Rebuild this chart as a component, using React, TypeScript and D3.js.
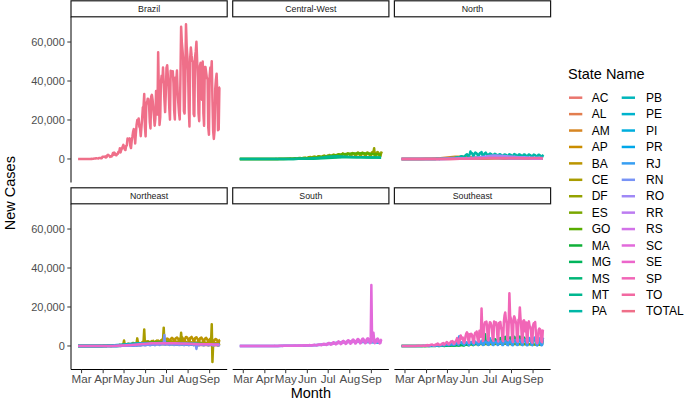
import React from 'react';
import * as d3 from 'd3';

// ---------------- DATA (values in thousands of new cases) ----------------
const START = new Date(2020, 1, 25); // first day of the daily series
const regions = ['Brazil', 'Central-West', 'North', 'Northeast', 'South', 'Southeast'];
const stateNames = ['AC','AL','AM','AP','BA','CE','DF','ES','GO','MA','MG','MS','MT','PA','PB','PE','PI','PR','RJ','RN','RO','RR','RS','SC','SE','SP','TO','TOTAL'];
const stateRegion: Record<string, string> = {
  AC:'North', AM:'North', AP:'North', PA:'North', RO:'North', RR:'North', TO:'North',
  AL:'Northeast', BA:'Northeast', CE:'Northeast', MA:'Northeast', PB:'Northeast', PE:'Northeast', PI:'Northeast', RN:'Northeast', SE:'Northeast',
  DF:'Central-West', GO:'Central-West', MS:'Central-West', MT:'Central-West',
  ES:'Southeast', MG:'Southeast', RJ:'Southeast', SP:'Southeast',
  PR:'South', RS:'South', SC:'South',
  TOTAL:'Brazil',
};
const yTicks = [0, 20000, 40000, 60000];
const monthLabels = ['Mar', 'Apr', 'May', 'Jun', 'Jul', 'Aug', 'Sep'];

// daily series (one value per day from 2020-02-25)
const TOTAL_daily = [
  0,0.001,0,0,0,0.001,0,
  0,0.001,0.005,0.005,0.006,0.006,0.005,
  0.009,0.018,0.025,0.021,0.023,0.079,0.034,
  0.057,0.137,0.193,0.283,0.224,0.418,0.345,
  0.310,0.232,0.482,0.502,0.487,0.352,0.323,
  1.138,1.119,1.208,1.012,1.304,0.770,1.031,
  1.873,2.136,1.922,1.546,1.089,1.442,1.261,
  1.832,3.058,2.105,3.257,2.917,2.055,1.927,
  2.498,2.678,3.735,3.503,5.514,3.379,4.613,
  5.385,6.276,7.218,6.209,4.970,4.588,6.633,
  6.935,10.503,9.888,10.222,10.611,6.760,5.632,
  9.258,11.385,13.944,15.305,14.919,7.938,13.140,
  17.408,19.951,18.508,20.803,16.508,15.813,11.687,
  16.324,20.599,26.417,26.928,33.274,16.409,11.598,
  28.936,28.633,30.925,30.830,27.075,18.912,15.654,
  32.091,32.913,30.412,25.982,21.704,17.110,20.647,
  34.918,32.188,22.765,54.771,34.666,17.459,21.432,
  39.436,42.725,39.483,46.907,38.693,30.476,24.052,
  33.846,46.712,48.105,42.223,37.279,26.051,20.229,
  45.305,44.571,42.619,45.048,39.023,24.831,20.286,
  41.857,39.924,45.403,34.177,28.532,23.529,20.257,
  41.008,67.860,59.961,55.891,51.147,24.578,23.284,
  40.816,69.074,57.837,52.383,45.392,25.800,16.641,
  51.603,57.152,53.139,50.230,49.970,23.010,22.048,
  52.160,55.155,60.091,50.644,41.576,23.101,19.373,
  47.784,49.298,45.323,30.355,50.032,23.421,17.078,
  47.134,47.161,44.235,41.350,41.300,16.158,12.386,
  42.659,46.934,43.773,50.163,30.168,14.521,10.273,
  14.279,35.816,40.557,43.718,33.523,14.768,15.155,
  36.653,36.820,
];

const SP_daily = [
  0,0.001,0,0,0,0.001,0,
  0,0.001,0.003,0.003,0,0.003,0,
  0.003,0.011,0.012,0.008,0.009,0.046,0.020,
  0.012,0.076,0.076,0.110,0.063,0.172,0.114,
  0.065,0.052,0.190,0.172,0.087,0.071,0.070,
  0.325,0.171,0.457,0.208,0.392,0.258,0.325,
  0.676,0.666,0.733,0.513,0.301,0.488,0.395,
  0.653,0.962,0.616,1.261,0.966,0.556,0.522,
  0.653,0.697,1.101,1.306,1.498,0.623,0.893,
  1.466,1.480,2.036,1.708,1.139,0.823,1.353,
  1.591,2.255,2.066,2.573,2.142,1.114,1.220,
  2.034,2.442,3.081,4.092,2.560,1.361,2.058,
  3.525,5.418,4.224,3.777,4.298,2.166,1.574,
  2.637,5.012,6.382,6.999,6.216,2.843,1.682,
  6.018,4.959,6.244,5.918,4.428,1.983,1.550,
  5.600,6.800,6.200,7.400,4.500,2.600,2.100,
  7.800,7.300,4.700,19.200,8.500,2.500,3.300,
  10.700,12.100,11.300,12.500,9.800,3.100,2.800,
  10.500,12.200,11.900,10.800,8.600,3.400,2.600,
  12.600,11.300,10.900,12.100,9.200,3.700,2.300,
  11.800,10.600,12.300,9.400,7.900,3.000,2.400,
  12.100,15.600,17.200,13.400,11.600,3.300,2.900,
  11.400,27.000,15.500,14.200,10.900,3.100,2.100,
  13.700,15.200,14.000,12.600,11.200,2.900,2.200,
  13.500,12.800,19.800,13.900,9.600,3.000,1.900,
  12.900,13.200,11.600,7.400,12.100,2.800,1.800,
  11.800,12.600,10.300,9.800,8.100,2.400,1.700,
  10.400,11.600,10.900,12.300,7.300,2.100,1.400,
  2.600,8.200,8.900,8.600,7.900,2.300,1.900,
  7.900,7.600,
];

const RJ_daily = [
  0,0,0,0,0,0,0,
  0,0,0.001,0,0,0,0,
  0,0.001,0.006,0.006,0.002,0.010,0.007,
  0.006,0.018,0.012,0.026,0.010,0.039,0.032,
  0.051,0.047,0.049,0.072,0.085,0.043,0.049,
  0.091,0.111,0.084,0.102,0.047,0.063,0.054,
  0.178,0.203,0.210,0.156,0.095,0.198,0.095,
  0.238,0.312,0.164,0.335,0.291,0.246,0.178,
  0.295,0.211,0.393,0.347,0.627,0.377,0.332,
  0.623,0.656,0.723,0.542,0.522,0.431,0.596,
  0.752,0.870,0.902,0.761,0.733,0.497,0.461,
  0.985,1.108,1.246,1.522,1.213,0.560,4.950,
  1.720,2.100,1.490,1.805,1.354,0.986,0.622,
  1.118,1.705,1.602,1.887,1.551,0.746,0.516,
  1.432,1.818,2.012,1.950,1.470,0.812,0.633,
  1.912,2.250,1.807,1.702,1.225,0.588,0.774,
  2.116,1.958,1.310,2.612,1.842,0.531,0.622,
  1.743,2.312,1.940,2.146,1.583,0.672,0.556,
  1.635,3.920,2.110,1.824,1.350,0.604,0.489,
  2.305,2.028,1.814,2.252,1.560,0.530,0.611,
  1.802,1.956,2.410,1.532,1.124,0.465,0.520,
  1.910,2.108,2.452,2.010,1.416,0.510,0.434,
  1.866,2.940,2.210,1.980,1.412,0.488,0.392,
  2.520,2.810,3.010,2.330,1.870,0.512,0.457,
  2.604,3.290,2.960,2.440,1.708,0.560,0.421,
  2.716,3.120,3.350,2.204,1.930,0.402,0.388,
  3.012,3.560,4.100,2.640,2.210,0.566,0.347,
  3.620,3.880,4.260,3.720,2.015,0.498,0.292,
  0.654,3.412,3.650,4.020,2.540,0.410,0.520,
  3.810,3.420,
];

const MG_daily = [
  0,0,0,0,0,0,0,
  0,0,0,0,0.001,0,0,
  0,0,0.002,0.003,0.001,0.011,0.004,
  0.008,0.014,0.010,0.031,0.024,0.045,0.018,
  0.024,0.020,0.037,0.017,0.032,0.014,0.022,
  0.053,0.028,0.040,0.024,0.033,0.029,0.015,
  0.047,0.046,0.053,0.060,0.018,0.038,0.030,
  0.052,0.071,0.062,0.080,0.041,0.035,0.028,
  0.064,0.080,0.071,0.110,0.062,0.054,0.047,
  0.105,0.130,0.148,0.097,0.121,0.060,0.070,
  0.158,0.192,0.221,0.184,0.216,0.123,0.094,
  0.238,0.280,0.321,0.352,0.289,0.151,0.190,
  0.412,0.398,0.451,0.502,0.426,0.233,0.281,
  0.523,0.604,0.687,0.712,0.640,0.338,0.402,
  0.860,0.951,1.120,1.012,0.843,0.412,0.560,
  1.210,1.350,1.432,1.198,0.902,0.488,0.621,
  1.622,1.704,1.552,1.880,1.410,0.610,0.720,
  2.010,6.050,2.208,2.402,1.886,0.812,0.703,
  2.504,2.812,2.650,2.760,2.107,0.930,0.880,
  3.210,3.560,3.320,3.070,2.504,1.020,0.955,
  3.402,3.850,4.120,3.200,2.660,1.105,1.020,
  3.510,4.320,4.660,3.880,2.940,0.980,1.120,
  3.620,4.010,4.430,3.950,3.120,1.050,0.912,
  4.130,4.720,4.320,3.610,2.980,0.870,1.010,
  3.950,4.510,4.810,3.920,2.650,0.920,0.980,
  4.120,4.350,3.880,3.020,2.710,0.810,0.760,
  3.860,4.010,3.620,3.150,2.450,0.702,0.690,
  3.720,3.910,3.450,3.380,2.120,0.610,0.520,
  0.940,3.320,3.410,3.260,2.280,0.640,0.820,
  3.120,3.050,
];

const CE_daily = [
  0,0,0,0,0,0,0,
  0,0,0,0,0,0,0,
  0,0,0,0,0,0.003,0.006,
  0.010,0.004,0.010,0.020,0.026,0.035,0.035,
  0.052,0.046,0.060,0.038,0.062,0.030,0.040,
  0.072,0.080,0.060,0.095,0.070,0.045,0.050,
  0.095,0.140,0.180,0.120,0.100,0.110,0.080,
  0.180,0.250,0.210,0.330,0.260,0.180,0.210,
  0.290,0.340,0.420,0.510,0.620,0.380,0.450,
  0.560,0.720,0.880,2.800,0.650,0.540,0.720,
  0.890,1.020,1.210,1.150,0.950,0.620,0.810,
  1.120,1.350,1.560,1.420,1.200,0.850,0.980,
  1.450,3.900,1.720,1.650,1.380,0.920,1.050,
  1.520,1.880,2.100,1.950,8.500,1.100,0.950,
  2.200,2.450,2.050,2.380,1.900,1.050,1.120,
  2.310,2.540,2.120,2.650,1.820,1.250,1.180,
  2.450,2.710,2.380,2.600,1.950,0.980,1.120,
  2.550,2.810,2.380,3.100,9.400,1.200,1.080,
  2.430,2.600,2.210,2.340,1.750,0.860,0.920,
  2.150,2.380,2.020,2.210,1.620,0.780,0.850,
  1.950,2.120,1.880,2.050,1.450,0.720,0.780,
  2.010,6.800,2.150,1.980,1.520,0.650,0.710,
  1.850,2.100,1.920,1.760,1.340,0.580,0.620,
  1.720,1.950,1.830,1.650,1.210,0.540,0.590,
  1.680,1.820,1.750,1.530,1.120,0.510,0.560,
  1.590,1.710,1.620,1.450,1.050,0.480,0.520,
  1.510,1.640,1.580,1.380,0.980,0.420,0.480,
  1.420,1.560,1.480,11.100,-8.200,0.950,0.450,
  1.320,1.450,1.380,1.250,0.880,0.380,0.420,
  1.250,1.310,
];

const BA_daily = [
  0,0,0,0,0,0,0,
  0,0,0,0,0,0,0,
  0,0,0,0,0.001,0.002,0.003,
  0.005,0.010,0.012,0.022,0.020,0.030,0.025,
  0.028,0.030,0.045,0.032,0.040,0.020,0.030,
  0.052,0.045,0.060,0.042,0.055,0.030,0.040,
  0.060,0.075,0.080,0.070,0.050,0.055,0.045,
  0.090,0.110,0.100,0.120,0.090,0.070,0.080,
  0.130,0.150,0.170,0.160,0.180,0.110,0.120,
  0.210,0.240,0.280,0.250,0.220,0.150,0.180,
  0.320,0.380,0.420,0.400,0.350,0.210,0.260,
  0.480,0.560,0.620,0.580,0.510,0.320,0.400,
  0.720,0.810,0.890,0.850,0.760,0.450,0.550,
  0.980,1.120,1.250,1.180,1.050,0.620,0.740,
  1.350,1.520,1.680,1.610,1.420,0.850,1.020,
  1.820,2.050,2.210,2.120,1.850,1.120,1.350,
  2.350,2.620,2.480,2.710,2.250,1.320,1.520,
  2.850,3.120,3.350,3.210,2.780,1.650,1.820,
  3.250,3.520,3.780,3.610,3.120,1.820,2.010,
  3.620,3.910,4.150,3.880,3.320,1.950,2.250,
  3.850,4.120,4.380,4.050,3.510,2.020,2.380,
  3.920,4.250,4.510,4.120,3.620,2.110,2.420,
  4.050,4.620,4.480,4.210,3.580,2.050,2.310,
  4.120,4.380,4.650,4.020,3.450,1.980,2.250,
  3.950,4.280,4.510,3.920,3.380,1.920,2.150,
  3.820,4.120,4.350,3.750,3.210,1.850,2.050,
  3.650,3.950,4.180,3.620,3.020,1.720,1.950,
  3.420,3.750,3.850,3.420,2.850,1.650,1.820,
  3.150,3.420,3.580,3.210,2.650,1.520,1.680,
  2.950,3.120,
];

const RN_daily = [
  0,0,0,0,0,0,0,
  0,0,0,0,0,0,0,
  0,0,0.001,0,0.002,0.003,0.002,
  0.003,0.005,0.004,0.006,0.005,0.010,0.008,
  0.010,0.012,0.015,0.010,0.020,0.008,0.012,
  0.020,0.025,0.018,0.030,0.020,0.015,0.018,
  0.030,0.035,0.040,0.030,0.025,0.020,0.025,
  0.040,0.050,0.045,0.060,0.040,0.030,0.035,
  0.060,0.070,0.080,0.075,0.065,0.040,0.050,
  0.090,0.110,0.120,0.100,0.090,0.060,0.070,
  0.130,0.150,0.170,0.160,0.140,0.090,0.110,
  0.200,0.230,0.250,0.240,0.210,0.130,0.160,
  0.300,0.350,0.380,0.360,0.320,0.200,0.240,
  0.420,0.480,0.520,0.500,0.450,0.280,0.330,
  0.550,0.620,0.680,0.650,0.580,0.350,0.420,
  0.700,0.780,0.820,0.800,0.720,0.420,0.500,
  0.820,0.900,0.950,0.920,0.850,0.480,0.580,
  0.920,1.000,1.050,1.020,0.950,5.600,0.650,
  0.950,1.050,1.080,1.020,0.920,0.550,0.620,
  0.900,0.980,1.020,0.950,0.850,0.500,0.580,
  0.850,0.920,0.950,0.900,0.800,0.450,0.520,
  0.800,0.880,0.900,0.850,0.750,0.420,0.500,
  0.750,0.820,0.850,0.800,0.700,0.400,0.470,
  0.700,0.780,0.800,0.750,0.650,0.380,0.440,
  0.650,0.720,-1.500,0.700,0.620,0.350,0.420,
  0.620,0.680,0.700,0.650,0.580,0.330,0.400,
  0.580,0.650,0.680,0.620,0.550,0.320,0.380,
  0.550,0.620,0.650,0.600,0.520,0.300,0.360,
  0.520,0.580,0.620,0.570,0.500,0.280,0.340,
  0.500,0.560,
];

const SC_daily = [
  0,0,0,0,0,0,0,
  0,0,0,0,0,0,0,
  0,0,0.002,0,0.001,0.003,0.002,
  0.004,0.005,0.012,0.015,0.020,0.030,0.025,
  0.020,0.018,0.025,0.030,0.022,0.015,0.020,
  0.025,0.030,0.028,0.035,0.030,0.020,0.025,
  0.035,0.040,0.038,0.045,0.030,0.025,0.030,
  0.045,0.060,0.050,0.055,0.040,0.030,0.035,
  0.060,0.070,0.080,0.075,0.060,0.040,0.050,
  0.080,0.095,0.110,0.120,0.090,0.060,0.070,
  0.120,0.150,0.160,0.140,0.130,0.080,0.100,
  0.180,0.200,0.220,0.250,0.190,0.110,0.140,
  0.230,0.260,0.280,0.300,0.250,0.150,0.180,
  0.280,0.320,0.350,0.380,0.300,0.180,0.220,
  0.350,0.420,0.450,0.400,0.380,0.220,0.280,
  0.480,0.550,0.600,0.520,0.450,0.280,0.350,
  0.650,0.720,0.800,0.750,0.620,0.380,0.450,
  0.920,1.050,1.120,1.080,0.950,0.520,0.620,
  1.250,1.420,1.510,1.380,1.150,0.680,0.780,
  1.520,1.780,1.920,1.650,1.320,0.820,0.950,
  1.850,2.120,2.350,2.010,1.680,0.950,1.080,
  2.150,2.480,2.620,2.310,1.920,1.050,1.250,
  2.420,2.850,2.950,2.620,2.150,1.150,1.380,
  2.650,3.120,3.350,2.910,2.350,1.250,1.450,
  2.850,3.450,3.620,3.150,2.520,1.320,1.520,
  3.050,3.650,3.820,3.350,2.680,1.380,1.580,
  3.150,3.750,3.920,3.420,2.750,1.420,1.620,
  31.300,3.650,4.050,6.800,2.850,1.450,1.680,
  3.050,3.620,3.850,3.320,2.650,1.350,1.550,
  3.120,3.450,
];

const DF_daily = [
  0,0,0,0,0,0,0,
  0,0,0,0,0.001,0,0,
  0.001,0.001,0.002,0.006,0.010,0.008,0.010,
  0.012,0.020,0.020,0.030,0.028,0.050,0.020,
  0.015,0.025,0.050,0.030,0.020,0.018,0.020,
  0.030,0.025,0.040,0.030,0.028,0.020,0.025,
  0.040,0.035,0.030,0.038,0.025,0.020,0.030,
  0.045,0.050,0.040,0.060,0.040,0.030,0.035,
  0.060,0.070,0.080,0.090,0.100,0.060,0.070,
  0.100,0.120,0.150,0.130,0.110,0.080,0.100,
  0.150,0.180,0.200,0.220,0.180,0.120,0.150,
  0.250,0.300,0.350,0.320,0.280,0.180,0.220,
  0.400,0.450,0.500,0.480,0.420,0.280,0.320,
  0.550,0.620,0.680,0.720,0.600,0.380,0.450,
  0.820,0.900,0.950,1.020,0.880,0.550,0.650,
  1.050,1.150,1.220,1.180,1.050,0.650,0.780,
  1.250,1.380,1.420,1.350,1.150,0.720,0.850,
  1.450,1.620,1.750,1.680,1.420,0.850,0.950,
  1.680,1.850,1.920,2.050,1.650,0.950,1.050,
  1.850,2.120,2.250,2.050,1.820,1.020,1.150,
  2.050,2.350,2.480,2.250,1.950,1.100,1.250,
  2.250,2.850,2.620,2.450,2.120,1.150,1.320,
  2.420,2.950,2.780,2.650,2.250,1.220,1.380,
  2.520,3.050,2.850,2.720,2.350,1.250,1.420,
  2.650,3.150,3.350,2.850,2.420,1.280,1.450,
  2.720,3.250,3.050,2.950,2.480,1.300,1.480,
  2.820,3.350,3.150,3.050,2.550,1.320,1.520,
  2.920,3.450,3.650,3.300,5.500,1.350,1.550,
  2.850,3.380,3.520,3.250,2.580,1.300,1.480,
  2.950,3.850,
];

const PA_daily = [
  0,0,0,0,0,0,0,
  0,0,0,0,0,0,0,
  0,0,0,0,0,0,0,
  0,0,0.001,0.002,0,0.001,0.001,
  0.002,0.001,0.003,0.002,0.004,0.002,0.003,
  0.006,0.010,0.008,0.012,0.010,0.006,0.008,
  0.020,0.030,0.025,0.040,0.020,0.015,0.025,
  0.050,0.060,0.070,0.080,0.060,0.040,0.050,
  0.120,0.150,0.180,0.200,0.160,0.100,0.150,
  0.250,0.300,0.350,0.320,0.280,0.200,0.250,
  0.400,0.480,0.520,0.550,0.500,0.320,0.400,
  0.620,0.750,0.820,0.900,0.780,0.480,0.600,
  1.050,1.250,1.380,1.420,1.200,0.750,0.950,
  1.500,1.850,2.200,2.450,2.100,1.200,1.450,
  2.500,3.800,2.900,3.100,2.600,1.500,1.800,
  2.850,3.300,3.050,2.800,2.400,1.400,1.650,
  2.700,3.100,2.850,3.500,2.300,1.300,1.550,
  2.600,2.950,3.250,2.750,2.200,1.250,1.450,
  2.450,2.800,2.650,2.500,2.050,1.150,1.350,
  2.300,2.650,2.450,2.350,1.950,1.050,1.250,
  2.150,2.450,2.300,2.150,1.800,0.950,1.150,
  2.050,2.350,2.200,2.050,1.700,0.900,1.100,
  2.100,2.400,2.250,2.100,1.750,0.920,1.120,
  2.150,2.550,2.350,2.200,1.800,0.950,1.150,
  2.050,2.400,2.250,2.100,1.700,0.900,1.100,
  2.000,2.350,2.200,2.050,1.650,0.880,1.050,
  1.950,2.300,2.150,2.000,1.600,0.850,1.000,
  1.900,2.250,2.100,1.950,1.550,0.820,0.980,
  1.850,2.200,2.050,1.900,1.500,0.800,0.950,
  1.800,2.100,
];

// weekly series (one value every 7 days from 2020-02-25)
const AC_weekly = [0,0,0,0,0.002,0.005,0.010,0.015,0.020,0.030,0.050,0.080,0.110,0.150,0.180,0.200,0.250,0.280,0.300,0.320,0.350,0.300,0.280,0.260,0.250,0.240,0.230,0.200,0.180,0.150];
const AM_weekly = [0,0,0,0.005,0.030,0.080,0.150,0.250,0.400,0.650,0.900,1.100,1.200,1.100,0.950,0.800,0.700,0.650,0.700,0.750,0.680,0.600,0.550,0.500,0.450,0.420,0.400,0.450,0.480,0.500];
const AP_weekly = [0,0,0,0,0.003,0.010,0.020,0.050,0.080,0.120,0.200,0.300,0.350,0.400,0.380,0.350,0.300,0.280,0.350,0.400,0.350,0.300,0.280,0.250,0.220,0.200,0.180,0.160,0.150,0.140];
const RO_weekly = [0,0,0,0,0.002,0.005,0.010,0.015,0.020,0.030,0.060,0.120,0.200,0.300,0.450,0.650,0.900,1.200,1.500,1.800,1.700,1.500,1.300,1.100,0.950,0.850,0.750,0.650,0.600,0.550];
const RR_weekly = [0,0,0,0,0.001,0.003,0.010,0.020,0.040,0.080,0.120,0.150,0.200,0.250,0.300,0.350,0.400,0.450,0.500,0.450,0.400,0.350,0.300,0.280,0.250,0.220,0.200,0.180,0.160,0.150];
const TO_weekly = [0,0,0,0,0.001,0.002,0.005,0.010,0.015,0.020,0.030,0.050,0.080,0.120,0.180,0.250,0.320,0.400,0.450,0.500,0.520,0.550,0.500,0.480,0.450,0.420,0.400,0.380,0.350,0.320];
const GO_weekly = [0,0,0.001,0.005,0.010,0.015,0.020,0.025,0.030,0.040,0.060,0.090,0.150,0.250,0.400,0.600,0.850,1.100,1.400,1.750,2.100,2.400,2.600,2.750,2.850,2.900,2.800,2.600,2.400,2.200];
const MS_weekly = [0,0,0,0.002,0.005,0.008,0.010,0.012,0.015,0.020,0.030,0.050,0.060,0.080,0.120,0.180,0.250,0.350,0.450,0.600,0.750,0.850,0.900,0.950,0.900,0.850,0.800,0.750,0.700,0.650];
const MT_weekly = [0,0,0,0.001,0.003,0.005,0.008,0.010,0.015,0.020,0.030,0.050,0.080,0.120,0.200,0.350,0.550,0.800,1.100,1.300,1.400,1.250,1.100,1.000,0.950,0.900,0.850,0.800,0.750,0.700];
const AL_weekly = [0,0,0,0.001,0.005,0.010,0.020,0.030,0.050,0.080,0.150,0.250,0.400,0.550,0.700,0.800,0.900,0.950,0.900,0.850,0.800,0.750,0.700,0.650,0.600,0.550,0.500,0.450,0.400,0.380];
const MA_weekly = [0,0,0,0.002,0.010,0.030,0.080,0.150,0.250,0.450,0.650,0.900,1.100,1.300,1.500,1.600,1.700,1.750,1.600,1.400,1.200,1.100,1.000,0.950,0.900,0.850,0.800,0.750,0.700,0.650];
const PB_weekly = [0,0,0,0.001,0.003,0.008,0.015,0.030,0.050,0.100,0.200,0.350,0.550,0.800,1.050,1.200,1.350,1.450,1.500,1.450,1.400,1.350,1.300,1.200,1.100,1.000,0.950,0.900,0.850,0.800];
const PE_weekly = [0,0,0,0.005,0.020,0.050,0.120,0.250,0.450,0.700,0.950,1.150,1.300,1.400,1.350,1.250,1.200,1.150,1.100,1.050,1.100,1.200,1.150,1.050,1.000,0.950,0.900,0.850,0.800,0.750];
const PI_weekly = [0,0,0,0.001,0.003,0.008,0.015,0.025,0.040,0.080,0.150,0.250,0.400,0.600,0.800,0.950,1.050,1.100,1.050,1.000,0.950,1.000,0.950,0.900,0.850,0.800,0.750,0.700,0.650,0.600];
const SE_weekly = [0,0,0,0.001,0.003,0.008,0.020,0.050,0.100,0.200,0.350,0.550,0.800,1.000,1.200,1.350,1.450,1.500,1.450,1.400,1.350,1.300,1.250,1.150,1.050,0.950,0.900,0.850,0.800,0.750];
const ES_weekly = [0,0,0,0.002,0.010,0.030,0.060,0.090,0.120,0.180,0.260,0.340,0.480,0.600,0.820,0.950,1.050,1.120,1.020,0.980,1.150,1.210,1.080,1.020,0.950,0.870,0.910,0.820,0.640,0.720];
const PR_weekly = [0,0,0,0.005,0.010,0.020,0.030,0.040,0.050,0.060,0.070,0.090,0.120,0.180,0.280,0.400,0.550,0.750,1.000,1.300,1.600,1.850,2.100,2.300,2.200,2.100,2.000,1.900,1.800,1.700];
const RS_weekly = [0,0,0,0.005,0.015,0.020,0.030,0.040,0.050,0.070,0.090,0.120,0.150,0.200,0.280,0.380,0.500,0.650,0.850,1.100,1.350,1.600,1.850,2.050,2.200,2.300,2.350,2.400,2.300,2.200];

const seriesValues: Record<string, { step: number; values: number[] }> = {
  AC: { step: 7, values: AC_weekly }, AL: { step: 7, values: AL_weekly }, AM: { step: 7, values: AM_weekly },
  AP: { step: 7, values: AP_weekly }, BA: { step: 1, values: BA_daily }, CE: { step: 1, values: CE_daily },
  DF: { step: 1, values: DF_daily }, ES: { step: 7, values: ES_weekly }, GO: { step: 7, values: GO_weekly },
  MA: { step: 7, values: MA_weekly }, MG: { step: 1, values: MG_daily }, MS: { step: 7, values: MS_weekly },
  MT: { step: 7, values: MT_weekly }, PA: { step: 1, values: PA_daily }, PB: { step: 7, values: PB_weekly },
  PE: { step: 7, values: PE_weekly }, PI: { step: 7, values: PI_weekly }, PR: { step: 7, values: PR_weekly },
  RJ: { step: 1, values: RJ_daily }, RN: { step: 1, values: RN_daily }, RO: { step: 7, values: RO_weekly },
  RR: { step: 7, values: RR_weekly }, RS: { step: 7, values: RS_weekly }, SC: { step: 1, values: SC_daily },
  SE: { step: 7, values: SE_weekly }, SP: { step: 1, values: SP_daily }, TO: { step: 7, values: TO_weekly },
  TOTAL: { step: 1, values: TOTAL_daily },
};

// ---------------- colours: ggplot2-style hue palette (polar LUV) ----------------
function hclHex(h: number, c: number, l: number): string {
  const hr = (h * Math.PI) / 180;
  const U = c * Math.cos(hr), V = c * Math.sin(hr);
  const Y = l > 8 ? Math.pow((l + 16) / 116, 3) : l / 903.3;
  const Xn = 0.95047, Yn = 1, Zn = 1.08883;
  const den = Xn + 15 * Yn + 3 * Zn;
  const un = (4 * Xn) / den, vn = (9 * Yn) / den;
  const u = U / (13 * l) + un, v = V / (13 * l) + vn;
  const X = (9 * Y * u) / (4 * v);
  const Z = ((9 * Y) / v - X - 15 * Y) / 3;
  const lin = [
    3.240479 * X - 1.53715 * Y - 0.498535 * Z,
    -0.969256 * X + 1.875992 * Y + 0.041556 * Z,
    0.055648 * X - 0.204043 * Y + 1.057311 * Z,
  ];
  const gam = (t: number) => (t <= 0.0031308 ? 12.92 * t : 1.055 * Math.pow(t, 1 / 2.4) - 0.055);
  const [r, g, b] = lin.map((t) => Math.round(Math.max(0, Math.min(1, gam(t))) * 255));
  return d3.rgb(r, g, b).formatHex();
}
const palette = stateNames.map((_, i) => hclHex((15 + (i * 360) / stateNames.length) % 360, 88, 63));
const colorOf = d3.scaleOrdinal<string, string>().domain(stateNames).range(palette);

// ---------------- build series ----------------
type Pt = { date: Date; v: number };
const allSeries = stateNames.map((name) => {
  const s = seriesValues[name];
  const pts: Pt[] = s.values.map((k, i) => ({ date: d3.timeDay.offset(START, i * s.step), v: k * 1000 }));
  return { name, region: stateRegion[name], pts };
});

export default function App() {
  const W = 685, H = 403;
  const panelLeft = 71, panelW = 156.2, gapX = 5.5;
  const stripTop = 0.8, stripH = 16, panelH = 165.7, gapY = 5.3;
  const font = "'Liberation Sans', Arial, Helvetica, sans-serif";

  const allPts = allSeries.flatMap((s) => s.pts);
  const [dMin, dMax] = d3.extent(allPts, (p) => p.date) as [Date, Date];
  const span = +dMax - +dMin;
  const x = d3.scaleTime()
    .domain([new Date(+dMin - 0.05 * span), new Date(+dMax + 0.05 * span)])
    .range([0, panelW]);
  const [vMin, vMax] = d3.extent(allPts, (p) => p.v) as [number, number];
  const vPad = 0.05 * (vMax - vMin);
  const y = d3.scaleLinear().domain([vMin - vPad, vMax + vPad]).range([panelH, 0]);
  const line = d3.line<Pt>().x((p) => x(p.date)).y((p) => y(p.v)).curve(d3.curveLinear);
  const monthTicks = d3.timeMonth.range(new Date(2020, 2, 1), new Date(2020, 8, 2));
  const fmt = d3.format(',');

  const panels = regions.map((region, i) => {
    const col = i % 3, row = Math.floor(i / 3);
    const px = panelLeft + col * (panelW + gapX);
    const sy = stripTop + row * (stripH + panelH + gapY);
    const py = sy + stripH;
    const series = allSeries.filter((s) => s.region === region);
    return (
      <g key={region}>
        <rect x={px} y={sy} width={panelW} height={stripH} fill="#fff" stroke="#1a1a1a" strokeWidth={1.2} />
        <text x={px + panelW / 2} y={sy + stripH / 2 + 3.1} textAnchor="middle" fontSize={8.8} fill="#1a1a1a">{region}</text>
        <g transform={`translate(${px},${py})`}>
          {series.map((s) => (
            <path key={s.name} d={line(s.pts) || ''} fill="none" stroke={colorOf(s.name)} strokeWidth={2.5} strokeLinejoin="round" />
          ))}
          {col === 0 && (
            <g>
              <line x1={0} x2={0} y1={0} y2={panelH} stroke="#000" strokeWidth={1} />
              {yTicks.map((t) => (
                <g key={t} transform={`translate(0,${y(t)})`}>
                  <line x1={-3.7} x2={0} stroke="#333" strokeWidth={1} />
                  <text x={-6.2} y={3.8} textAnchor="end" fontSize={11} fill="#4d4d4d">{fmt(t)}</text>
                </g>
              ))}
            </g>
          )}
          {row === 1 && (
            <g transform={`translate(0,${panelH})`}>
              <line x1={0} x2={panelW} y1={0} y2={0} stroke="#000" strokeWidth={1} />
              {monthTicks.map((t, k) => (
                <g key={k} transform={`translate(${x(t)},0)`}>
                  <line y1={0} y2={3.7} stroke="#333" strokeWidth={1} />
                  <text y={13.2} textAnchor="middle" fontSize={11.6} fill="#4d4d4d">{monthLabels[k]}</text>
                </g>
              ))}
            </g>
          )}
        </g>
      </g>
    );
  });

  const legendRows = Math.ceil(stateNames.length / 2);
  return (
    <svg width={W} height={H} viewBox={`0 0 ${W} ${H}`} style={{ position: 'absolute', left: 0, top: 0, background: '#fff' }} fontFamily={font}>
      <rect width={W} height={H} fill="#fff" />
      {panels}
      <text transform={`translate(15,${stripTop + stripH + (panelH * 2 + stripH + gapY) / 2}) rotate(-90)`} textAnchor="middle" fontSize={14.5} fill="#000">New Cases</text>
      <text x={panelLeft + (3 * panelW + 2 * gapX) / 2} y={398} textAnchor="middle" fontSize={14.5} fill="#000">Month</text>
      <text x={568} y={79.3} fontSize={14.5} fill="#000">State Name</text>
      {stateNames.map((name, i) => {
        const col = Math.floor(i / legendRows), row = i % legendRows;
        const kx = col === 0 ? 569 : 621.7;
        const lx = col === 0 ? 591.7 : 646;
        const cy = 97.7 + row * 16.42;
        return (
          <g key={name}>
            <line x1={kx} x2={kx + 13.3} y1={cy} y2={cy} stroke={colorOf(name)} strokeWidth={2.5} />
            <text x={lx} y={cy + 4.2} fontSize={12} fill="#000">{name}</text>
          </g>
        );
      })}
    </svg>
  );
}
